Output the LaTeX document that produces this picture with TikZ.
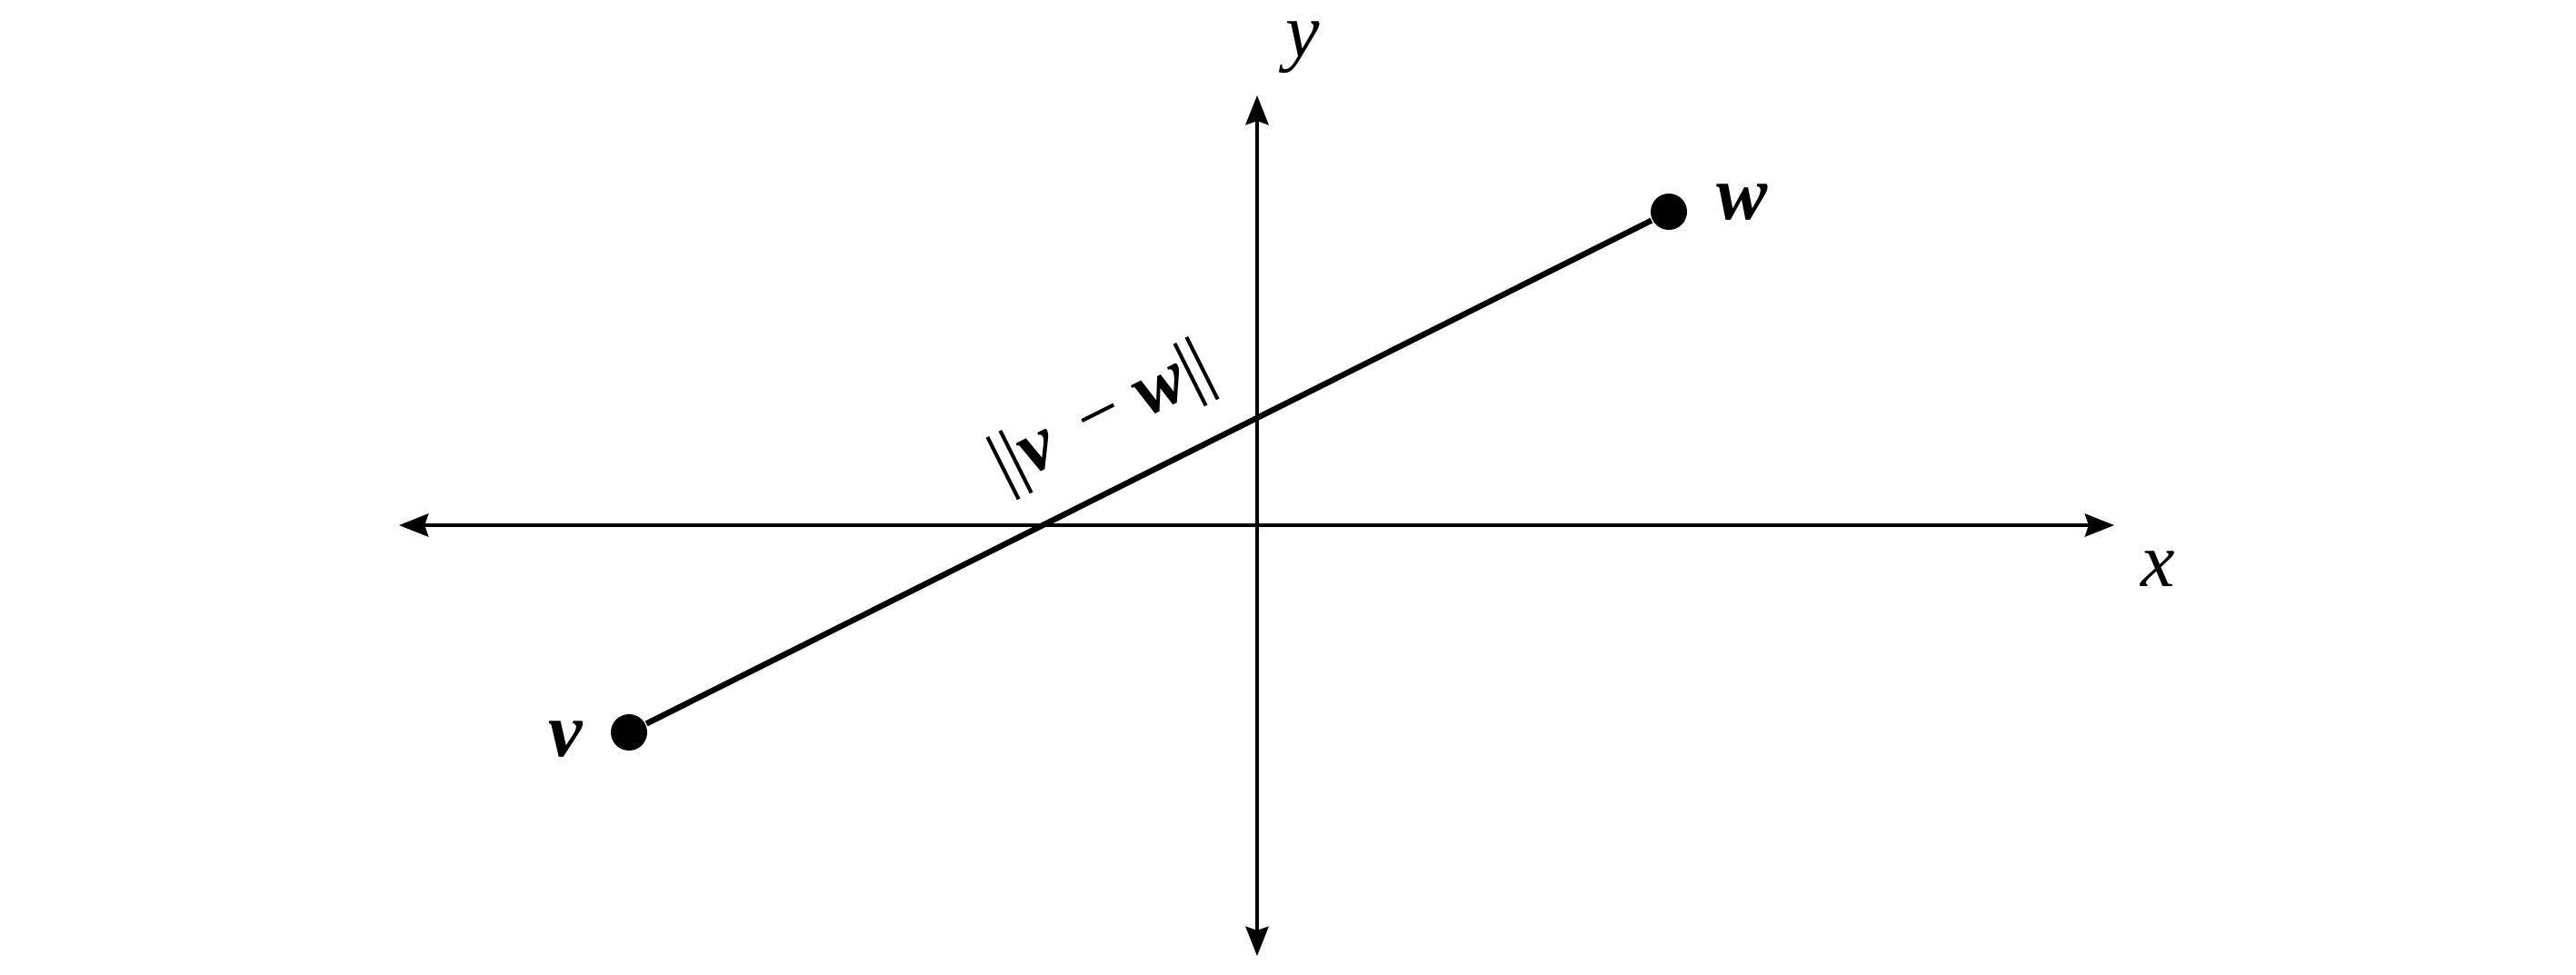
\documentclass[tikz,border=0pt]{standalone}
\usepackage{fontspec}
\setmainfont{Liberation Serif}
\usetikzlibrary{positioning,arrows.meta}
\tikzset{%
  axisLine/.style={%
    {Stealth[length=4.6pt,width=3.6pt,inset=0.6pt]}-{Stealth[length=4.6pt,width=3.6pt,inset=0.6pt]},
    line width=0.5pt
  },
  segLine/.style={%
    line width=0.9pt
  },
  dotNode/.style={%
    circle,
    fill=black,
    inner sep=0pt,
    minimum size=0.2cm
  },
  axisLabel/.style={%
    font=\fontsize{12}{14}\selectfont\itshape,
    inner sep=0pt
  },
  vecLabel/.style={%
    font=\fontsize{12}{14}\selectfont\bfseries\itshape,
    inner sep=0pt
  }
}
\newcommand{\dbar}{|\kern-0.3pt|}
\begin{document}
\begin{tikzpicture}
  \useasboundingbox (0,0) rectangle (14.17,5.36);

  % axes
  \coordinate (xLeft) at (2.195,2.47);
  \coordinate (xRight) at (11.63,2.47);
  \coordinate (yTop) at (6.915,4.835);
  \coordinate (yBottom) at (6.915,0.10);
  \draw[axisLine] (xLeft) -- (xRight);
  \draw[axisLine] (yBottom) -- (yTop);
  \node[axisLabel] (xLabel) at (11.87,2.23) {x};
  \node[axisLabel] (yLabel) at (7.165,5.10) {y};

  % points
  \node[dotNode] (vDot) at (3.46,1.33) {};
  \node[dotNode] (wDot) at (9.18,4.195) {};
  \node[vecLabel, left=0.14cm of vDot, yshift=-0.04cm] (vLabel) {v};
  \node[vecLabel, right=0.15cm of wDot, yshift=0.05cm] (wLabel) {w};

  \draw[segLine] (vDot) -- node[pos=0.485, sloped, above=0.05cm, font=\fontsize{12}{14}\selectfont] (normLabel) {\dbar\textbf{\textit{v}}\, − \textbf{\textit{w}}\dbar} (wDot);
\end{tikzpicture}
\end{document}
